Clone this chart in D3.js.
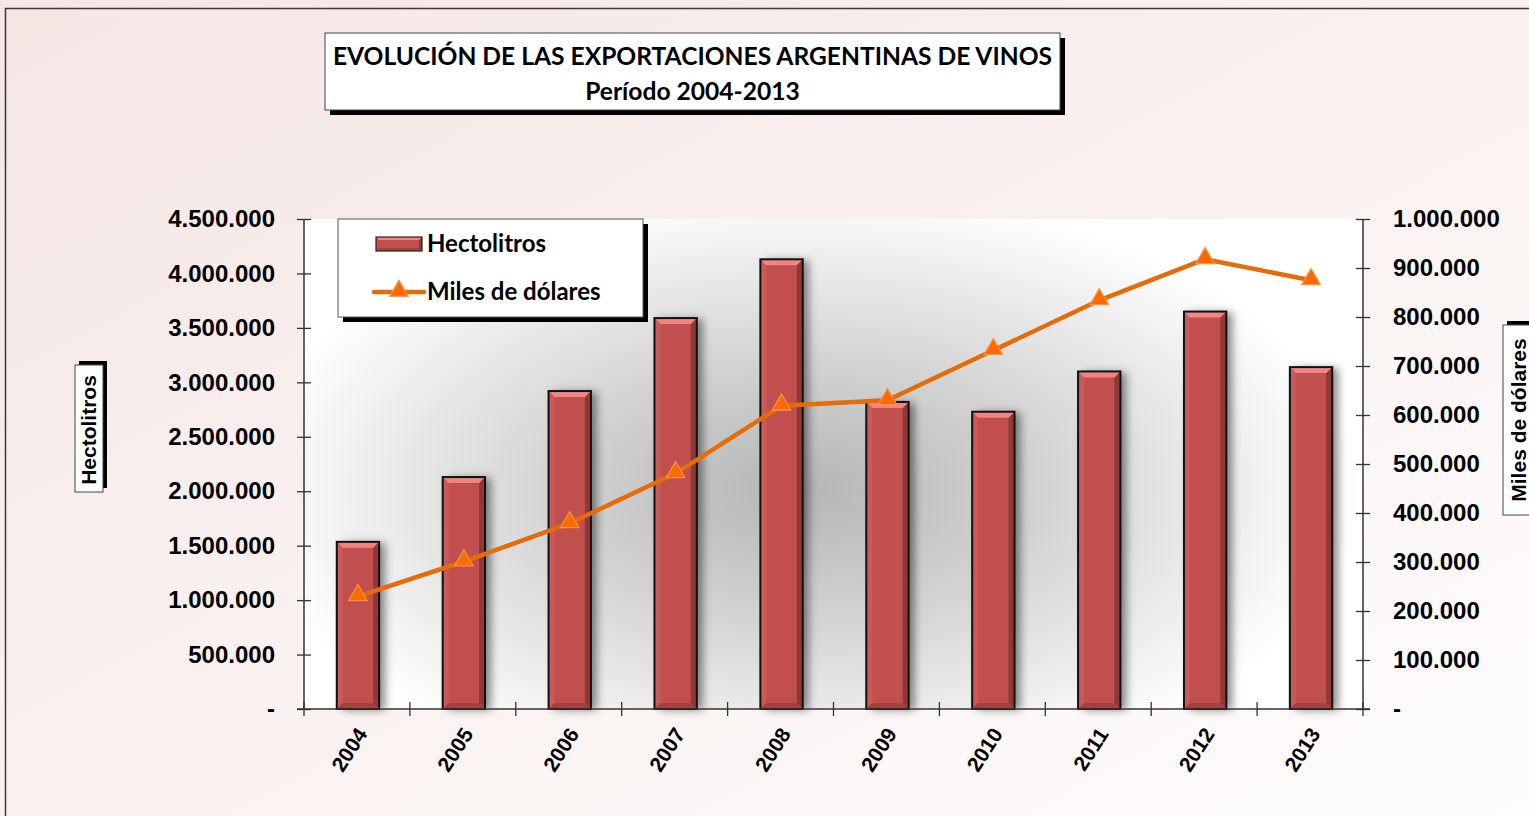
<!DOCTYPE html>
<html><head><meta charset="utf-8">
<script src="https://cdnjs.cloudflare.com/ajax/libs/d3/7.8.5/d3.min.js"></script>
<style>html,body{margin:0;padding:0;overflow:hidden;background:#fff}</style>
</head><body>
<svg id="chart" width="1529" height="816"></svg>
<script>
const years = ["2004","2005","2006","2007","2008","2009","2010","2011","2012","2013"];
const hectolitros = [1535000,2130000,2920000,3590000,4130000,2820000,2730000,3100000,3650000,3140000];
const milesDolares = [230000,301000,379000,481000,619000,630000,732000,834000,918000,875000];
const leftTicks = [0,500000,1000000,1500000,2000000,2500000,3000000,3500000,4000000,4500000];
const rightTicks = [0,100000,200000,300000,400000,500000,600000,700000,800000,900000,1000000];
const titleLines = ["EVOLUCIÓN DE LAS EXPORTACIONES ARGENTINAS DE VINOS","Período 2004-2013"];
const seriesNames = ["Hectolitros","Miles de dólares"];

const svg = d3.select("#chart");
const defs = svg.append("defs");

const loc = d3.formatLocale({decimal:",",thousands:".",grouping:[3],currency:["",""]});
const fmt = v => v === 0 ? "-" : loc.format(",")(v);

// backgrounds
const bg = defs.append("linearGradient").attr("id","bg").attr("x1","0").attr("y1","0").attr("x2","1").attr("y2","1");
bg.append("stop").attr("offset","0").attr("stop-color","#f5e6e4");
bg.append("stop").attr("offset","1").attr("stop-color","#fefdfc");
const rg = defs.append("radialGradient").attr("id","plotbg").attr("gradientUnits","userSpaceOnUse")
  .attr("r",1).attr("gradientTransform","translate(0,490) scale(560,300)").attr("cx",1.43).attr("cy",0).attr("fx",1.43).attr("fy",0);
rg.append("stop").attr("offset","0").attr("stop-color","#b5b5b5");
rg.append("stop").attr("offset","0.45").attr("stop-color","#d4d4d4");
rg.append("stop").attr("offset","1").attr("stop-color","#ffffff");

const sh = defs.append("filter").attr("id","barShadow").attr("x","-50%").attr("y","-10%").attr("width","200%").attr("height","120%");
sh.append("feDropShadow").attr("dx",6).attr("dy",1).attr("stdDeviation",4).attr("flood-color","#000").attr("flood-opacity",0.45);

svg.append("rect").attr("width",1529).attr("height",816).attr("fill","url(#bg)");
svg.append("path").attr("d","M5.5,816 V8.5 H1529").attr("fill","none").attr("stroke","#3a3a3a").attr("stroke-width",1.5);

const L=304, R=1363, T=219, B=709;
svg.append("rect").attr("x",L).attr("y",T).attr("width",R-L).attr("height",B-T).attr("fill","url(#plotbg)");

const x = d3.scaleBand().domain(years).range([L,R]).paddingInner(0.6).paddingOuter(0.3);
const yL = d3.scaleLinear().domain([0,4500000]).range([B,T]);
const yR = d3.scaleLinear().domain([0,1000000]).range([B,T]);
const step = x.step();

// bars
const bars = svg.append("g").selectAll("g").data(years).join("g");
bars.each(function(d,i){
  const g = d3.select(this);
  const x0 = x(d)+1, w = x.bandwidth(), y0 = yL(hectolitros[i]), h = B - y0, b = 6;
  g.append("rect").attr("x",x0).attr("y",y0).attr("width",w).attr("height",h).attr("fill","#c0504d").attr("filter","url(#barShadow)");
  const poly = (pts,fill)=>g.append("polygon").attr("points",pts.map(p=>p.join(",")).join(" ")).attr("fill",fill);
  poly([[x0,y0],[x0+b,y0+b],[x0+b,y0+h-b],[x0,y0+h]],"#c85a57");
  poly([[x0+w,y0],[x0+w,y0+h],[x0+w-b,y0+h-b],[x0+w-b,y0+b]],"#8f3836");
  poly([[x0,y0+h],[x0+w,y0+h],[x0+w-b,y0+h-b],[x0+b,y0+h-b]],"#a1423f");
  poly([[x0,y0],[x0+w,y0],[x0+w-b,y0+b],[x0+b,y0+b]],"#f28582");
  g.append("rect").attr("x",x0).attr("y",y0).attr("width",w).attr("height",h).attr("fill","none").attr("stroke","#111").attr("stroke-width",2);
});

// axes
const axisColor = "#333";
const gl = svg.append("g").attr("transform",`translate(${L},0)`).call(d3.axisLeft(yL).tickValues(leftTicks).tickFormat(fmt).tickSize(7).tickPadding(22));
const gr = svg.append("g").attr("transform",`translate(${R},0)`).call(d3.axisRight(yR).tickValues(rightTicks).tickFormat(fmt).tickSize(7).tickPadding(23));
[gl,gr].forEach(g=>{
  g.select(".domain").remove();
  g.selectAll(".tick line").attr("x1",-7).attr("x2",7).attr("stroke",axisColor).attr("stroke-width",1.3);
  g.selectAll(".tick text").attr("font-family","Liberation Sans, Arial, sans-serif").attr("font-weight","bold").attr("font-size",24).attr("fill","#000");
});
svg.append("line").attr("x1",L).attr("x2",L).attr("y1",T).attr("y2",B).attr("stroke",axisColor).attr("stroke-width",1.5);
svg.append("line").attr("x1",R).attr("x2",R).attr("y1",T).attr("y2",B).attr("stroke",axisColor).attr("stroke-width",1.5);
svg.append("line").attr("x1",L-7).attr("x2",R+7).attr("y1",B).attr("y2",B).attr("stroke",axisColor).attr("stroke-width",1.5);
const catBounds = years.map(d=>x(d)-step*0.3).concat([R]);
svg.append("g").selectAll("line").data(catBounds).join("line")
  .attr("x1",d=>d).attr("x2",d=>d).attr("y1",B-7).attr("y2",B+7).attr("stroke",axisColor).attr("stroke-width",1.3);
svg.append("g").selectAll("text").data(years).join("text")
  .attr("transform",d=>`translate(${x(d)+x.bandwidth()/2+5},${B+21}) rotate(-57)`)
  .attr("text-anchor","end").attr("dy","0.35em")
  .attr("font-family","Liberation Sans, Arial, sans-serif").attr("font-weight","bold").attr("font-size",21).text(d=>d);

// line
const cx = d => x(d)+x.bandwidth()/2+1;
const lineGen = d3.line().x((d,i)=>cx(years[i])).y(d=>yR(d));
svg.append("path").datum(milesDolares).attr("d",lineGen).attr("fill","none").attr("stroke","#e46c0a").attr("stroke-width",4.5).attr("stroke-linejoin","round");
const tri = d3.symbol().type(d3.symbolTriangle).size(150);
svg.append("g").selectAll("path").data(milesDolares).join("path")
  .attr("transform",(d,i)=>`translate(${cx(years[i])},${yR(d)-1})`).attr("d",tri)
  .attr("fill","#ff6a00").attr("stroke","#f79646").attr("stroke-width",1.2);

// title box
const tb = {x:325,y:33,w:735,h:77};
svg.append("rect").attr("x",tb.x+5).attr("y",tb.y+5).attr("width",tb.w).attr("height",tb.h).attr("fill","#000");
svg.append("rect").attr("x",tb.x).attr("y",tb.y).attr("width",tb.w).attr("height",tb.h).attr("fill","#fff").attr("stroke","#444").attr("stroke-width",1);
svg.append("g").selectAll("text").data(titleLines).join("text")
  .attr("x",tb.x+tb.w/2).attr("y",(d,i)=>65+i*35).attr("text-anchor","middle")
  .attr("font-family","Lato, sans-serif").attr("font-weight","bold").attr("font-size",24.6).attr("fill","#000").text(d=>d);

// legend
const lg = {x:338,y:219,w:305,h:98};
svg.append("rect").attr("x",lg.x+5).attr("y",lg.y+5).attr("width",lg.w).attr("height",lg.h).attr("fill","#000");
svg.append("rect").attr("x",lg.x).attr("y",lg.y).attr("width",lg.w).attr("height",lg.h).attr("fill","#fff").attr("stroke","#555").attr("stroke-width",1);
(function(){
  const x0=376,y0=237,w=46,h=14,b=3;
  const g=svg.append("g");
  g.append("rect").attr("x",x0).attr("y",y0).attr("width",w).attr("height",h).attr("fill","#c0504d");
  const poly=(pts,fill)=>g.append("polygon").attr("points",pts.map(p=>p.join(",")).join(" ")).attr("fill",fill);
  poly([[x0+w,y0],[x0+w,y0+h],[x0+w-b,y0+h-b],[x0+w-b,y0+b]],"#8f3836");
  poly([[x0,y0+h],[x0+w,y0+h],[x0+w-b,y0+h-b],[x0+b,y0+h-b]],"#a1423f");
  poly([[x0,y0],[x0+w,y0],[x0+w-b,y0+b],[x0+b,y0+b]],"#f28582");
  g.append("rect").attr("x",x0).attr("y",y0).attr("width",w).attr("height",h).attr("fill","none").attr("stroke","#222").attr("stroke-width",1.2);
})();
svg.append("line").attr("x1",374).attr("x2",424).attr("y1",292).attr("y2",292).attr("stroke","#e46c0a").attr("stroke-width",4.5).attr("stroke-linecap","round");
svg.append("path").attr("transform","translate(399,291)").attr("d",tri).attr("fill","#ff6a00").attr("stroke","#f79646").attr("stroke-width",1.2);
svg.append("g").selectAll("text").data(seriesNames).join("text")
  .attr("x",427).attr("y",(d,i)=>252+i*48)
  .attr("font-family","Lato, sans-serif").attr("font-weight","bold").attr("font-size",24).attr("fill","#000").text(d=>d);

// axis titles
svg.append("rect").attr("x",79).attr("y",361).attr("width",28).attr("height",127).attr("fill","#000");
svg.append("rect").attr("x",75).attr("y",365).attr("width",28).attr("height",127).attr("fill","#fff").attr("stroke","#444").attr("stroke-width",1);
svg.append("text").attr("transform","translate(89,430) rotate(-90)").attr("text-anchor","middle").attr("dy","0.35em")
  .attr("font-family","Liberation Sans, Arial, sans-serif").attr("font-weight","bold").attr("font-size",21).text(seriesNames[0]);
svg.append("rect").attr("x",1507).attr("y",321).attr("width",30).attr("height",190).attr("fill","#000");
svg.append("rect").attr("x",1503).attr("y",325).attr("width",30).attr("height",190).attr("fill","#fff").attr("stroke","#444").attr("stroke-width",1);
svg.append("text").attr("transform","translate(1519,420) rotate(-90)").attr("text-anchor","middle").attr("dy","0.35em")
  .attr("font-family","Liberation Sans, Arial, sans-serif").attr("font-weight","bold").attr("font-size",21).text(seriesNames[1]);
</script>
</body></html>
